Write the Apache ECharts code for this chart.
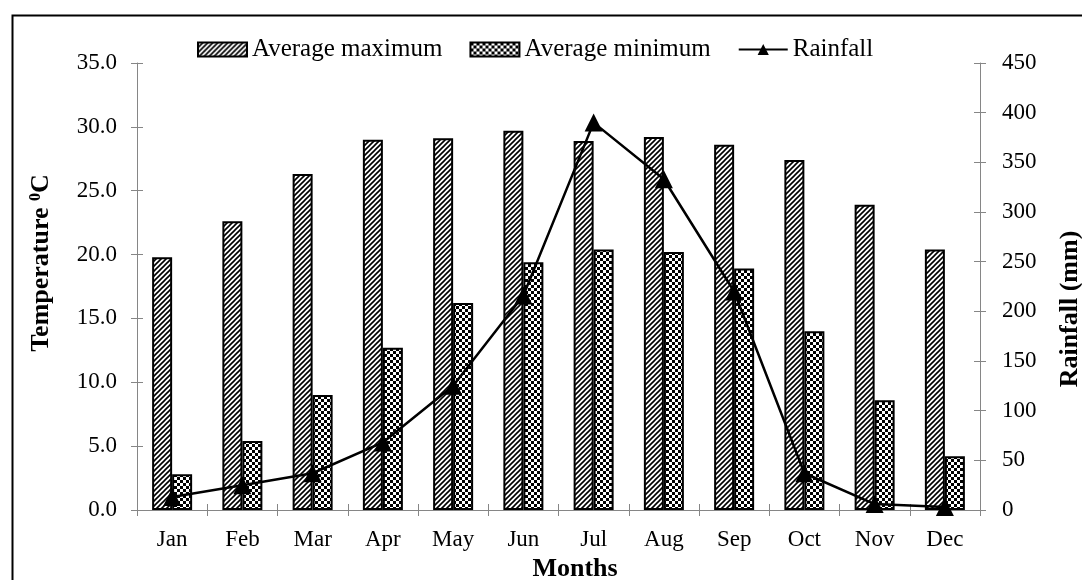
<!DOCTYPE html>
<html>
<head>
<meta charset="utf-8">
<script src="https://cdn.jsdelivr.net/npm/echarts@6/dist/echarts.min.js"></script>
<style>
  html, body { margin: 0; padding: 0; background: #fff; }
  #chart { width: 1082px; height: 580px; }
</style>
</head>
<body>
<div id="chart"></div>
<script>
// Monthly climate data
const months = ['Jan', 'Feb', 'Mar', 'Apr', 'May', 'Jun', 'Jul', 'Aug', 'Sep', 'Oct', 'Nov', 'Dec'];
const avgMaxTemp = [19.8, 22.6, 26.3, 29.0, 29.1, 29.7, 28.9, 29.2, 28.6, 27.4, 23.9, 20.4];
const avgMinTemp = [2.8, 5.4, 9.0, 12.7, 16.2, 19.4, 20.4, 20.2, 18.9, 14.0, 8.6, 4.2];
const rainfallMm = [13, 25, 37, 68, 125, 216, 390, 333, 220, 37, 6, 3];

// Axis ranges
const tempAxis = { min: 0, max: 35, interval: 5 };
const rainAxis = { min: 0, max: 450, interval: 50 };

const FONT = 'Liberation Serif';
const AXIS_GREY = '#868686';

// Diagonal hatch fill
function hatchPattern() {
  const s = 5;
  const c = document.createElement('canvas');
  c.width = s; c.height = s;
  const g = c.getContext('2d');
  g.fillStyle = '#fff';
  g.fillRect(0, 0, s, s);
  g.strokeStyle = '#000';
  g.lineWidth = 1.6;
  g.beginPath();
  g.moveTo(-1, s + 1); g.lineTo(s + 1, -1);
  g.moveTo(-1, 1); g.lineTo(1, -1);
  g.moveTo(s - 1, s + 1); g.lineTo(s + 1, s - 1);
  g.stroke();
  return c;
}

// Small checkerboard fill
function checkerPattern() {
  const q = 3;
  const c = document.createElement('canvas');
  c.width = q * 2; c.height = q * 2;
  const g = c.getContext('2d');
  g.fillStyle = '#fff';
  g.fillRect(0, 0, q * 2, q * 2);
  g.fillStyle = '#000';
  g.fillRect(0, 0, q, q);
  g.fillRect(q, q, q, q);
  return c;
}

const hatchFill = { image: hatchPattern(), repeat: 'repeat' };
const checkerFill = { image: checkerPattern(), repeat: 'repeat' };

const tickLabel = { color: '#000', fontFamily: FONT, fontSize: 23 };
const titleText = { fill: '#000', fontFamily: FONT, fontSize: 26, fontWeight: 'bold' };

function valueAxis(range, position, main, margin) {
  return {
    type: 'value',
    position: position,
    min: range.min,
    max: range.max,
    interval: range.interval,
    splitLine: { show: false },
    axisLine: { show: main, lineStyle: { color: AXIS_GREY, width: 1 } },
    axisTick: { show: true, inside: !main, length: 6, lineStyle: { color: AXIS_GREY } },
    axisLabel: { show: main, margin: margin, ...tickLabel }
  };
}

const leftAxis = valueAxis(tempAxis, 'left', true, 20);
leftAxis.axisLabel.formatter = v => v.toFixed(1);
const rightAxis = valueAxis(rainAxis, 'right', true, 22);

function categoryAxis(main) {
  return {
    type: 'category',
    position: 'bottom',
    data: months,
    boundaryGap: true,
    axisLine: { show: main, lineStyle: { color: AXIS_GREY, width: 1 } },
    axisTick: { show: true, inside: !main, length: 6, alignWithLabel: false, lineStyle: { color: AXIS_GREY } },
    axisLabel: { show: main, margin: 18, ...tickLabel }
  };
}

const chart = echarts.init(document.getElementById('chart'), null, { renderer: 'canvas' });

chart.setOption({
  animation: false,
  backgroundColor: '#fff',
  textStyle: { fontFamily: FONT, color: '#000' },
  grid: { left: 137, right: 102, top: 63, bottom: 70, containLabel: false },
  legend: {
    top: 32,
    left: 192,
    itemWidth: 49,
    itemHeight: 14,
    itemGap: 27,
    textStyle: { color: '#000', fontFamily: FONT, fontSize: 25 },
    data: [
      { name: 'Average maximum', icon: 'rect' },
      { name: 'Average minimum', icon: 'rect' },
      { name: 'Rainfall' }
    ]
  },
  xAxis: [categoryAxis(true), categoryAxis(false)],
  yAxis: [
    leftAxis,
    rightAxis,
    valueAxis(tempAxis, 'left', false, 0),
    valueAxis(rainAxis, 'right', false, 0)
  ],
  series: [
    {
      name: 'Average maximum',
      type: 'bar',
      xAxisIndex: 0,
      yAxisIndex: 0,
      data: avgMaxTemp,
      barWidth: 20,
      barGap: '0%',
      itemStyle: { color: hatchFill, borderColor: '#000', borderWidth: 2 }
    },
    {
      name: 'Average minimum',
      type: 'bar',
      xAxisIndex: 0,
      yAxisIndex: 0,
      data: avgMinTemp,
      barWidth: 20,
      barGap: '0%',
      itemStyle: { color: checkerFill, borderColor: '#000', borderWidth: 2 }
    },
    {
      name: 'Rainfall',
      type: 'line',
      xAxisIndex: 0,
      yAxisIndex: 1,
      data: rainfallMm,
      symbol: 'triangle',
      symbolSize: 18,
      itemStyle: { color: '#000' },
      lineStyle: { color: '#000', width: 2.5 },
      z: 5
    }
  ],
  graphic: [
    // outer frame
    {
      type: 'rect',
      left: 10,
      top: 13,
      shape: { width: 1100, height: 600 },
      style: { fill: null, stroke: '#000', lineWidth: 2 },
      silent: true,
      z: 100
    },
    // axis titles
    {
      type: 'text',
      x: 41,
      y: 263,
      rotation: Math.PI / 2,
      style: {
        text: '{t|Temperature }{s|0}{t|C}',
        align: 'center',
        verticalAlign: 'middle',
        rich: {
          t: { ...titleText },
          s: { ...titleText, fontSize: 16, verticalAlign: 'top' }
        }
      },
      silent: true
    },
    {
      type: 'text',
      x: 1070,
      y: 309,
      rotation: Math.PI / 2,
      style: { text: 'Rainfall (mm)', align: 'center', verticalAlign: 'middle', ...titleText },
      silent: true
    },
    {
      type: 'text',
      x: 575,
      y: 569,
      style: { text: 'Months', align: 'center', verticalAlign: 'middle', ...titleText },
      silent: true
    }
  ]
});
</script>
</body>
</html>
